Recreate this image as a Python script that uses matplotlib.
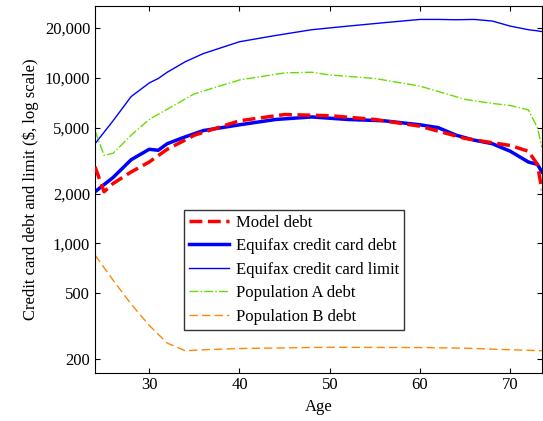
import matplotlib.pyplot as plt
from matplotlib.ticker import FixedLocator, NullLocator

plt.rcParams['font.family'] = 'Liberation Serif'
plt.rcParams['font.size'] = 12

age_model = [24, 25, 26, 28, 30, 32, 35, 40, 45, 50, 55, 60, 65, 70, 72, 73, 73.5]
model_debt = [2900, 2050, 2300, 2700, 3100, 3700, 4500, 5500, 6000, 5900, 5600, 5100, 4300, 3900, 3600, 3000, 2100]

age_eq = [24, 26, 28, 30, 31, 32, 34, 36, 40, 44, 48, 52, 56, 60, 62, 64, 66, 68, 70, 72, 73, 73.5]
eq_debt = [2050, 2500, 3200, 3700, 3650, 4000, 4400, 4800, 5200, 5600, 5800, 5600, 5500, 5200, 5000, 4500, 4200, 4000, 3600, 3100, 3000, 2700]
eq_limit = [4000, 5500, 7700, 9300, 9900, 10800, 12500, 14000, 16500, 18000, 19500, 20500, 21500, 22500, 22500, 22400, 22500, 22000, 20500, 19500, 19200, 19000]

age_a = [24, 25, 26, 28, 30, 35, 40, 45, 48, 50, 55, 60, 65, 68, 70, 72, 73, 73.5]
pop_a = [4800, 3400, 3500, 4500, 5600, 8000, 9700, 10700, 10800, 10400, 9900, 8900, 7400, 7000, 6800, 6400, 5000, 3800]

age_b = [24, 26, 28, 30, 32, 34, 36, 40, 50, 60, 65, 70, 73.5]
pop_b = [850, 600, 430, 320, 250, 225, 228, 232, 236, 235, 233, 228, 225]

fig, ax = plt.subplots(figsize=(5.43, 4.21), dpi=100)
ax.plot(age_model, model_debt, '--', color='red', lw=2.5, label='Model debt', zorder=5)
ax.plot(age_eq, eq_debt, '-', color='blue', lw=2.5, label='Equifax credit card debt')
ax.plot(age_eq, eq_limit, '-', color='blue', lw=1, label='Equifax credit card limit')
ax.plot(age_a, pop_a, '-.', color='#66dd00', lw=1, label='Population A debt')
ax.plot(age_b, pop_b, '--', color='#ff8800', lw=1, dashes=(6, 3), label='Population B debt')

ax.set_yscale('log')
ax.set_ylim(166, 27000)
ax.set_xlim(24, 73.5)
ticks = [200, 500, 1000, 2000, 5000, 10000, 20000]
ax.yaxis.set_major_locator(FixedLocator(ticks))
ax.yaxis.set_minor_locator(NullLocator())
ax.set_yticklabels([f'{t:,}' for t in ticks])
ax.set_xticks([30, 40, 50, 60, 70])
ax.tick_params(direction='in', which='both', top=True, right=True)
ax.set_xlabel('Age')
ax.set_ylabel('Credit card debt and limit ($, log scale)')
ax.legend(loc='upper left', bbox_to_anchor=(0.2, 0.445), fancybox=False,
          edgecolor='black', handlelength=2.4, handletextpad=0.4, borderpad=0.3,
          labelspacing=0.45, borderaxespad=0)
fig.subplots_adjust(left=0.175, right=0.998, top=0.985, bottom=0.115)
fig.savefig('out.png')
